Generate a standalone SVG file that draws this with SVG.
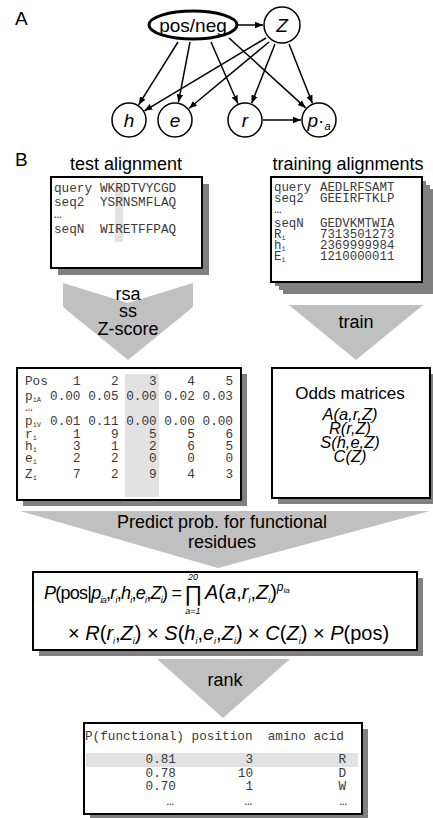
<svg xmlns="http://www.w3.org/2000/svg" width="433" height="818" viewBox="0 0 433 818">
<style>
.sans{font-family:"Liberation Sans",Arial,sans-serif;fill:#000}
.it{font-style:italic}
.mono{font-family:"Liberation Mono","Courier New",monospace;font-size:12.7px;fill:#3a3a3a}
.sub{font-size:7px}
.nc{fill:#fff;stroke:#000;stroke-width:1.5}
.edge{stroke:#000;stroke-width:1.5;fill:none;marker-end:url(#ah)}
.shadow{fill:#808080}
.box{fill:#fff;stroke:#000;stroke-width:2}
.flow{fill:#c0c0c0}
.hl{fill:#e2e2e2}
.lbl{font-size:19px}
.fl{font-size:18px;text-anchor:middle}
.fs{font-size:9px;font-style:italic}
</style>
<defs>
<marker id="ah" viewBox="0 0 10 10" refX="10" refY="5" markerWidth="8" markerHeight="8" markerUnits="userSpaceOnUse" orient="auto"><path d="M0,1 L10,5 L0,9 z" fill="#000"/></marker>
</defs>

<text class="sans lbl" x="15" y="25">A</text>
<text class="sans lbl" x="15" y="166">B</text>

<g id="connectors">
<line class="edge" x1="238" y1="25" x2="263" y2="25"/>
<line class="edge" x1="178" y1="42" x2="138.6" y2="104.8"/>
<line class="edge" x1="190" y1="42" x2="178.4" y2="102.3"/>
<line class="edge" x1="211" y1="42" x2="237.8" y2="103.5"/>
<line class="edge" x1="229" y1="38" x2="305.7" y2="107.9"/>
<line class="edge" x1="266" y1="38" x2="144.4" y2="110.8"/>
<line class="edge" x1="269" y1="42" x2="188.9" y2="108.5"/>
<line class="edge" x1="275" y1="44" x2="251.6" y2="103.3"/>
<line class="edge" x1="289" y1="44" x2="312.4" y2="103.3"/>
<line class="edge" x1="263" y1="120" x2="301" y2="120"/>
</g>

<g id="node-posneg">
<ellipse cx="193" cy="25" rx="44" ry="14" fill="#fff" stroke="#000" stroke-width="3"/>
<text class="sans" x="193" y="32" font-size="19" text-anchor="middle">pos/neg</text>
</g>
<g id="node-Z">
<circle class="nc" cx="282" cy="25" r="18"/>
<text class="sans it" x="282" y="32" font-size="19" text-anchor="middle">Z</text>
</g>
<g id="node-h">
<circle class="nc" cx="129" cy="120" r="17"/>
<text class="sans it" x="129" y="127" font-size="19" text-anchor="middle">h</text>
</g>
<g id="node-e">
<circle class="nc" cx="175" cy="120" r="17"/>
<text class="sans it" x="175" y="127" font-size="19" text-anchor="middle">e</text>
</g>
<g id="node-r">
<circle class="nc" cx="245" cy="120" r="17"/>
<text class="sans it" x="245" y="127" font-size="19" text-anchor="middle">r</text>
</g>
<g id="node-pa">
<circle class="nc" cx="319" cy="120" r="17"/>
<text class="sans it" x="319" y="127" font-size="19" text-anchor="middle">p<tspan font-style="normal">·</tspan><tspan font-size="11" dy="3">a</tspan></text>
</g>

<g id="test-alignment">
<text class="sans" x="126" y="170" font-size="18" text-anchor="middle">test alignment</text>
<rect class="shadow" x="58" y="184" width="151" height="91"/>
<rect class="box" x="51" y="177" width="151" height="91"/>
<rect class="hl" x="115" y="185" width="8" height="57"/>
<g class="mono">
<text x="54" y="192">query<tspan x="100">WKRDTVYCGD</tspan></text>
<text x="54" y="206">seq2<tspan x="100">YSRNSMFLAQ</tspan></text>
<text x="54" y="218">…</text>
<text x="54" y="233">seqN<tspan x="100">WIRETFFPAQ</tspan></text>
</g>
</g>

<g id="training-alignments">
<text class="sans" x="348" y="170" font-size="18" text-anchor="middle">training alignments</text>
<rect class="shadow" x="283" y="189" width="151" height="105"/>
<rect class="shadow" x="279" y="185" width="151" height="105"/>
<rect class="shadow" x="275" y="181" width="151" height="105"/>
<rect class="box" x="271" y="177" width="151" height="105"/>
<g class="mono">
<text x="274" y="191" font-size="12.4">query<tspan x="320">AEDLRFSAMT</tspan></text>
<text x="274" y="202" font-size="12.4">seq2<tspan x="320">GEEIRFTKLP</tspan></text>
<text x="274" y="213" font-size="12.4">…</text>
<text x="274" y="227" font-size="12.4">seqN<tspan x="320">GEDVKMTWIA</tspan></text>
<text x="274" y="238" font-size="12.4">R<tspan class="sub" dy="2">i</tspan><tspan x="320" dy="-2">7313501273</tspan></text>
<text x="274" y="249" font-size="12.4">h<tspan class="sub" dy="2">i</tspan><tspan x="320" dy="-2">2369999984</tspan></text>
<text x="274" y="260" font-size="12.4">E<tspan class="sub" dy="2">i</tspan><tspan x="320" dy="-2">1210000011</tspan></text>
</g>
</g>

<g id="step-rsa">
<polygon class="flow" points="63,283 128,303 193,283 193,307 128,360 63,307"/>
<text class="sans fl" x="128" y="300">rsa</text>
<text class="sans fl" x="128" y="317">ss</text>
<text class="sans fl" x="128" y="335">Z-score</text>
</g>

<g id="step-train">
<polygon class="flow" points="289,305 423,305 356,360"/>
<text class="sans fl" x="356" y="328">train</text>
</g>

<g id="feature-table">
<rect class="shadow" x="23" y="374" width="224" height="132"/>
<rect class="box" x="17" y="368" width="224" height="132"/>
<rect class="hl" x="125" y="374" width="34" height="123"/>
<g class="mono">
<text x="25" y="385">Pos</text>
<text x="25" y="400">p<tspan class="sub" dy="2">iA</tspan></text>
<text x="25" y="411">…</text>
<text x="25" y="425">p<tspan class="sub" dy="2">iV</tspan></text>
<text x="25" y="438">r<tspan class="sub" dy="2">i</tspan></text>
<text x="25" y="450">h<tspan class="sub" dy="2">i</tspan></text>
<text x="25" y="462">e<tspan class="sub" dy="2">i</tspan></text>
<text x="25" y="478">Z<tspan class="sub" dy="2">i</tspan></text>
</g>
<g class="mono" text-anchor="end">
<text x="80.5" y="385">1</text><text x="118.6" y="385">2</text><text x="156.7" y="385">3</text><text x="194.8" y="385">4</text><text x="233" y="385">5</text>
<text x="80.5" y="400">0.00</text><text x="118.6" y="400">0.05</text><text x="156.7" y="400">0.00</text><text x="194.8" y="400">0.02</text><text x="233" y="400">0.03</text>
<text x="80.5" y="425">0.01</text><text x="118.6" y="425">0.11</text><text x="156.7" y="425">0.00</text><text x="194.8" y="425">0.00</text><text x="233" y="425">0.00</text>
<text x="80.5" y="438">1</text><text x="118.6" y="438">9</text><text x="156.7" y="438">5</text><text x="194.8" y="438">5</text><text x="233" y="438">6</text>
<text x="80.5" y="450">3</text><text x="118.6" y="450">1</text><text x="156.7" y="450">2</text><text x="194.8" y="450">6</text><text x="233" y="450">5</text>
<text x="80.5" y="462">2</text><text x="118.6" y="462">2</text><text x="156.7" y="462">0</text><text x="194.8" y="462">0</text><text x="233" y="462">0</text>
<text x="80.5" y="478">7</text><text x="118.6" y="478">2</text><text x="156.7" y="478">9</text><text x="194.8" y="478">4</text><text x="233" y="478">3</text>
</g>
</g>

<g id="odds-matrices">
<rect class="shadow" x="278" y="374" width="158" height="130"/>
<rect class="box" x="272" y="368" width="158" height="130"/>
<g class="sans" font-size="16.5" text-anchor="middle">
<text x="350" y="399" font-size="17">Odds matrices</text>
<text x="350" y="420" class="it">A(a,r,Z)</text>
<text x="350" y="434" class="it">R(r,Z)</text>
<text x="350" y="448" class="it">S(h,e,Z)</text>
<text x="350" y="462" class="it">C(Z)</text>
</g>
</g>

<g id="step-predict">
<polygon class="flow" points="20,511 430,511 218,568"/>
<text class="sans fl" x="222" y="528">Predict prob. for functional</text>
<text class="sans fl" x="222" y="548">residues</text>
</g>

<g id="formula">
<rect class="shadow" x="39" y="578" width="384" height="78"/>
<rect class="box" x="33" y="572" width="384" height="78"/>
<g class="sans" font-size="20">
<text x="44" y="599" font-size="18" textLength="138" lengthAdjust="spacing"><tspan class="it">P</tspan>(pos|<tspan class="it">p</tspan><tspan class="fs" dy="4">ia</tspan><tspan dy="-4">,</tspan><tspan class="it">r</tspan><tspan class="fs" dy="4">i</tspan><tspan dy="-4">,</tspan><tspan class="it">h</tspan><tspan class="fs" dy="4">i</tspan><tspan dy="-4">,</tspan><tspan class="it">e</tspan><tspan class="fs" dy="4">i</tspan><tspan dy="-4">,</tspan><tspan class="it">Z</tspan><tspan class="fs" dy="4">i</tspan><tspan dy="-4">) =</tspan></text>
<text x="193" y="601" font-size="22" text-anchor="middle">∏</text>
<text x="193" y="580" class="fs" text-anchor="middle">20</text>
<text x="193" y="614" class="fs" text-anchor="middle">a=1</text>
<text x="205" y="599"><tspan class="it">A</tspan>(<tspan class="it">a</tspan>,<tspan class="it">r</tspan><tspan class="fs" dy="4">i</tspan><tspan dy="-4">,</tspan><tspan class="it">Z</tspan><tspan class="fs" dy="4">i</tspan><tspan dy="-4">)</tspan><tspan class="it" font-size="12" dy="-8">p</tspan><tspan class="it" font-size="8" dy="2">ia</tspan></text>
<text x="68" y="640">× <tspan class="it">R</tspan>(<tspan class="it">r</tspan><tspan class="fs" dy="4">i</tspan><tspan dy="-4">,</tspan><tspan class="it">Z</tspan><tspan class="fs" dy="4">i</tspan><tspan dy="-4">) × </tspan><tspan class="it">S</tspan>(<tspan class="it">h</tspan><tspan class="fs" dy="4">i</tspan><tspan dy="-4">,</tspan><tspan class="it">e</tspan><tspan class="fs" dy="4">i</tspan><tspan dy="-4">,</tspan><tspan class="it">Z</tspan><tspan class="fs" dy="4">i</tspan><tspan dy="-4">) × </tspan><tspan class="it">C</tspan>(<tspan class="it">Z</tspan><tspan class="fs" dy="4">i</tspan><tspan dy="-4">) × </tspan><tspan class="it">P</tspan>(pos)</text>
</g>
</g>

<g id="step-rank">
<polygon class="flow" points="157,659 290,659 223,718"/>
<text class="sans fl" x="225" y="686">rank</text>
</g>

<g id="ranking">
<rect class="shadow" x="90" y="729" width="278" height="91"/>
<rect class="box" x="84" y="723" width="278" height="91"/>
<rect class="hl" x="86" y="753" width="272" height="14"/>
<text class="mono" x="85" y="740" font-size="12.8" xml:space="preserve">P(functional) position  amino acid</text>
<g class="mono" text-anchor="end">
<text x="176" y="763">0.81</text><text x="253" y="763">3</text><text x="346" y="763">R</text>
<text x="176" y="777">0.78</text><text x="253" y="777">10</text><text x="346" y="777">D</text>
<text x="176" y="790">0.70</text><text x="253" y="790">1</text><text x="346" y="790">W</text>
<text x="174" y="805">…</text><text x="252" y="805">…</text><text x="347" y="805">…</text>
</g>
</g>
</svg>
